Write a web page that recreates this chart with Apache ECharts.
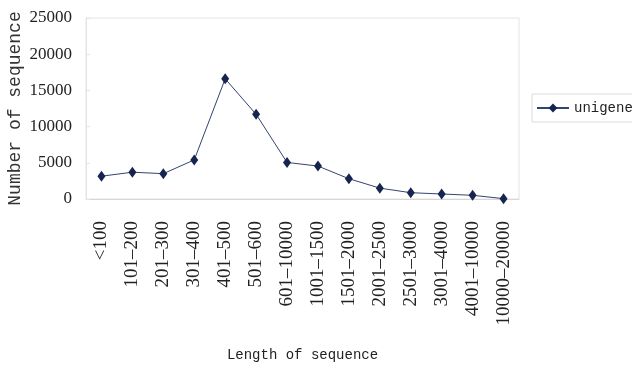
<!DOCTYPE html>
<html><head><meta charset="utf-8">
<script src="https://cdn.jsdelivr.net/npm/echarts@6/dist/echarts.min.js"></script>
<style>html,body{margin:0;padding:0;background:#fff}#c{width:632px;height:365px}</style>
</head><body><div id="c"></div>
<script>
var categories = ['<100','101–200','201–300','301–400','401–500','501–600','601–10000','1001–1500','1501–2000','2001–2500','2501–3000','3001–4000','4001–10000','10000–20000'];
var unigene = [3150, 3700, 3500, 5400, 16600, 11700, 5050, 4550, 2800, 1500, 870, 690, 510, 50];
var yTicks = {min: 0, max: 25000, interval: 5000};
var seriesName = 'unigene';
var xTitle = 'Length of sequence';
var yTitle = 'Number of sequence';

var chart = echarts.init(document.getElementById('c'), null, {renderer: 'canvas'});
chart.setOption({
  animation: false,
  backgroundColor: '#fff',
  grid: {left: 86, right: 113, top: 18, bottom: 166, containLabel: false, outerBoundsMode: 'none',
    show: true, borderColor: '#e4e4e4', borderWidth: 1, backgroundColor: 'transparent'},
  legend: {
    left: 532, top: 94, orient: 'vertical',
    padding: [7, 12, 7, 4],
    borderColor: '#dcdcdc', borderWidth: 1,
    itemWidth: 32, itemHeight: 11, itemGap: 4,
    textStyle: {fontFamily: 'Liberation Mono', fontSize: 14, color: '#222'},
    data: [seriesName]
  },
  xAxis: {
    type: 'category', data: categories, boundaryGap: true,
    name: xTitle, nameLocation: 'middle', nameGap: 149, nameMoveOverlap: false,
    nameTextStyle: {fontFamily: 'Liberation Mono', fontSize: 14, color: '#222'},
    axisLine: {lineStyle: {color: '#d6d6d6'}},
    axisTick: {inside: true, length: 8, lineStyle: {color: '#d6d6d6'}},
    axisLabel: {rotate: 90, margin: 22, interval: 0, fontFamily: 'Liberation Serif', fontSize: 19, color: '#222'}
  },
  yAxis: {
    type: 'value', min: yTicks.min, max: yTicks.max, interval: yTicks.interval,
    name: yTitle, nameLocation: 'middle', nameGap: 62, nameMoveOverlap: false,
    nameTextStyle: {fontFamily: 'Liberation Mono', fontSize: 18, color: '#333'},
    axisLine: {show: true, lineStyle: {color: '#e4e4e4'}},
    axisTick: {show: true, inside: true, length: 4, lineStyle: {color: '#e4e4e4'}},
    splitLine: {show: false},
    axisLabel: {margin: 14, fontFamily: 'Liberation Serif', fontSize: 17, color: '#222',
      formatter: function (v) { return String(v); }}
  },
  series: [{
    name: seriesName, type: 'line', data: unigene,
    symbol: 'diamond', symbolSize: [8, 11],
    lineStyle: {color: '#34436f', width: 1},
    itemStyle: {color: '#16254f'}
  }]
});
</script></body></html>
